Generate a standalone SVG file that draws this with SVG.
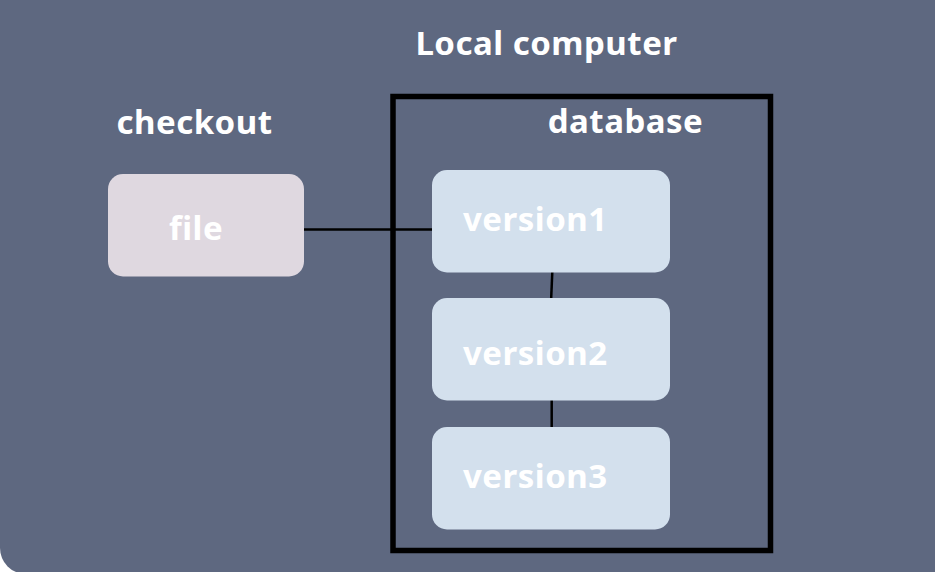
<svg xmlns="http://www.w3.org/2000/svg" width="935" height="572" viewBox="0 0 935 572">
<style>
.lbl{font-family:"Noto Sans","Liberation Sans",sans-serif;font-weight:bold;fill:#ffffff;font-size:33px;letter-spacing:0.5px;}
.ver{fill:#D3E0ED;}
.conn{stroke:#000;stroke-width:2.5;fill:none;}
</style>
<rect x="0" y="0" width="935" height="572" fill="#ffffff"/>
<rect x="0" y="-40" width="990" height="614" rx="26" fill="#5E6880"/>
<text class="lbl" x="546.5" y="55" text-anchor="middle">Local computer</text>
<text class="lbl" x="194.5" y="134" text-anchor="middle">checkout</text>
<g id="database">
<rect x="393" y="96.5" width="377.5" height="454" fill="none" stroke="#000" stroke-width="5.5"/>
<text class="lbl" x="625.5" y="133" text-anchor="middle">database</text>
</g>
<g id="connectors">
<line class="conn" x1="304" y1="229.5" x2="432" y2="229.5"/>
<line class="conn" x1="552.3" y1="272" x2="551.2" y2="298"/>
<line class="conn" x1="551.7" y1="400" x2="551.7" y2="428"/>
</g>
<g id="file">
<rect x="108" y="174" width="196" height="102.5" rx="15" fill="#DFD8E0"/>
<text class="lbl" x="196" y="240" text-anchor="middle">file</text>
</g>
<g id="version1">
<rect class="ver" x="432" y="170" width="238" height="102.5" rx="15"/>
<text class="lbl" x="463" y="230.5">version1</text>
</g>
<g id="version2">
<rect class="ver" x="432" y="298" width="238" height="102.5" rx="15"/>
<text class="lbl" x="463" y="365">version2</text>
</g>
<g id="version3">
<rect class="ver" x="432" y="427" width="238" height="102.5" rx="15"/>
<text class="lbl" x="463" y="488">version3</text>
</g>
</svg>
